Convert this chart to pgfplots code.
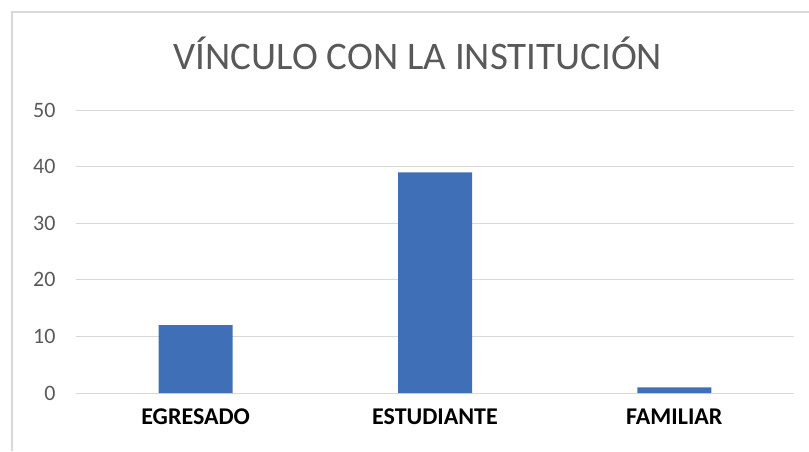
\documentclass[border=0pt]{standalone}
\usepackage{pgfplots}
\pgfplotsset{compat=1.18}
\usepackage{fontspec}
\setmainfont{Carlito}
\definecolor{barblue}{HTML}{3F70B7}
\definecolor{gridgrey}{HTML}{D9D9D9}
\definecolor{txtgrey}{HTML}{595959}
\begin{document}
\begin{tikzpicture}[x=1pt,y=1pt]
\useasboundingbox (0,0) rectangle (809,451);
\draw[gridgrey, line width=1.2pt] (12,0) -- (12,439) -- (809,439);
\node[txtgrey, font=\fontsize{39}{44}\selectfont] at (418,398) {VÍNCULO CON LA INSTITUCIÓN};
\begin{axis}[
  at={(76pt,58pt)}, anchor=south west,
  scale only axis, width=718pt, height=283pt,
  xmin=-0.5, xmax=2.5, ymin=0, ymax=50,
  xtick={0,1,2}, xticklabels={EGRESADO,ESTUDIANTE,FAMILIAR},
  ytick={0,10,20,30,40,50},
  axis line style={draw=none},
  major tick length=0pt,
  ymajorgrids, grid style={gridgrey, line width=1pt},
  /pgf/number format/assume math mode=true,
  yticklabel style={txtgrey, font=\fontsize{22}{26}\selectfont, anchor=east, xshift=-17pt},
  xticklabel style={black, font=\bfseries\fontsize{24}{28}\selectfont, yshift=-12pt},
  clip=false,
]
\addplot[ybar, bar width=74pt, fill=barblue, draw=none] coordinates {(0,12) (1,39) (2,1)};
\end{axis}
\end{tikzpicture}
\end{document}
